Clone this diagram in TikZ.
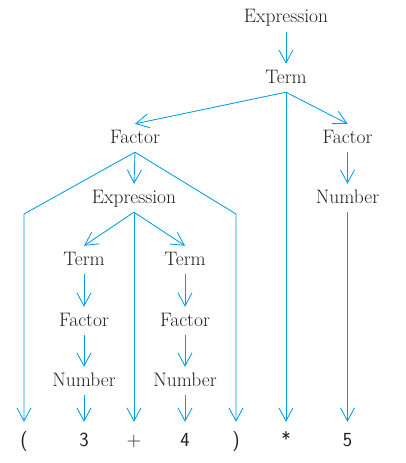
\documentclass[tikz,border=0pt]{standalone}
\usetikzlibrary{arrows.meta}
\definecolor{ln}{RGB}{0,158,224}
\definecolor{txt}{RGB}{35,31,32}
\begin{document}
\begin{tikzpicture}[x=1pt,y=-1pt,
  lbl/.style={anchor=base, font=\fontsize{19.5}{22}\selectfont, text=txt, inner xsep=0pt, inner ysep=5pt, text height=14pt, text depth=4pt},
  tok/.style={anchor=base, font=\sffamily\fontsize{20}{22}\selectfont, text=txt, inner xsep=0pt, inner ysep=6pt, text height=18pt, text depth=3pt},
  edge/.style={draw=ln, line width=0.85pt, -{Straight Barb[length=13pt,width=14pt]}}]
\useasboundingbox (0,0) rectangle (406,463);
% labels
\node[lbl] (e0) at (286,23) {Expression};
\node[lbl] (t0) at (286,83) {Term};
\node[lbl] (fL) at (135,143) {Factor};
\node[lbl] (fR) at (347.5,143) {Factor};
\node[lbl] (e1) at (134,203) {Expression};
\node[lbl] (nR) at (347.5,203) {Number};
\node[lbl] (tL) at (84,265) {Term};
\node[lbl] (tR) at (185,265) {Term};
\node[lbl] (fLL) at (84,326) {Factor};
\node[lbl] (fRR) at (185,326) {Factor};
\node[lbl] (nL) at (84,386) {Number};
\node[lbl] (nM) at (185,386) {Number};
% tokens
\node[tok] (lp) at (24,446) {(};
\node[tok] (k3) at (84,446) {3};
\node[tok] (pl) at (134,446) {+};
\node[tok] (k4) at (185,446) {4};
\node[tok] (rp) at (236,446) {)};
\node[tok] (st) at (286,446) {*};
\node[tok] (k5) at (347.5,446) {5};
% bends
\coordinate (bl) at (24,214);
\coordinate (br) at (236,214);
% connectors
\draw[edge] (e0.south) -- (t0.north);
\draw[edge] (t0.south) -- (fL.north);
\draw[edge] (t0.south) -- (fR.north);
\draw[edge] (t0.south) -- (st.north);
\draw[edge] (fL.south) -- (e1.north);
\draw[edge] (fL.south) -- (bl) -- (lp.north);
\draw[edge] (fL.south) -- (br) -- (rp.north);
\draw[edge] (fR.south) -- (nR.north);
\draw[edge] (nR.south) -- (k5.north);
\draw[edge] (e1.south) -- (tL.north);
\draw[edge] (e1.south) -- (tR.north);
\draw[edge] (e1.south) -- (pl.north);
\draw[edge] (tL.south) -- (fLL.north);
\draw[edge] (tR.south) -- (fRR.north);
\draw[edge] (fLL.south) -- (nL.north);
\draw[edge] (fRR.south) -- (nM.north);
\draw[edge] (nL.south) -- (k3.north);
\draw[edge] (nM.south) -- (k4.north);
\end{tikzpicture}
\end{document}
